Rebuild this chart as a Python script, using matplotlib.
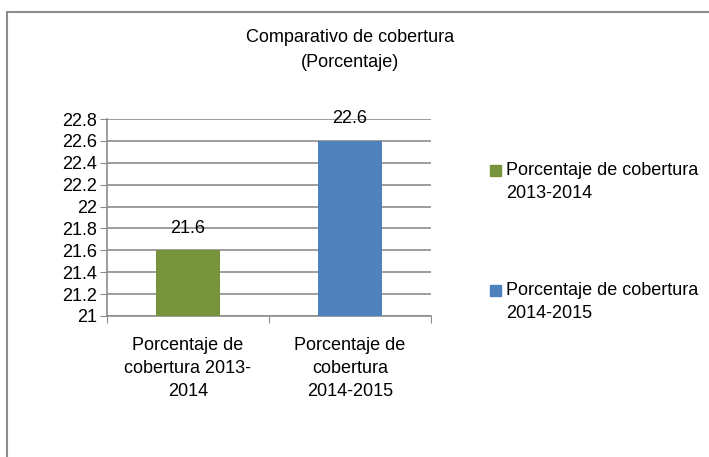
import matplotlib
matplotlib.use("Agg")
import matplotlib.pyplot as plt
from matplotlib.patches import Rectangle

# datos
categorias = ["Porcentaje de\ncobertura 2013-\n2014", "Porcentaje de\ncobertura\n2014-2015"]
series = ["Porcentaje de cobertura\n2013-2014", "Porcentaje de cobertura\n2014-2015"]
valores = [21.6, 22.6]
colores = ["#77933C", "#4F81BD"]
yticks = [21, 21.2, 21.4, 21.6, 21.8, 22, 22.2, 22.4, 22.6, 22.8]

plt.rcParams['font.family'] = ['Liberation Sans Narrow', 'Liberation Sans', 'DejaVu Sans']

fig = plt.figure(figsize=(7.09, 4.57), dpi=100)
W, H = 709, 457
# marco del grafico (solo se ven borde superior e izquierdo)
fig.patches.append(Rectangle((7 / W, -0.1), 1.2, 1 - 12 / H + 0.1, transform=fig.transFigure,
                             fill=False, edgecolor="#8c8c8c", linewidth=1.5))

ax = fig.add_axes([107 / W, 1 - 316 / H, (431 - 107) / W, (316 - 119) / H])
x = range(len(valores))
for i in x:
    ax.bar(i, valores[i] - 21, bottom=21, width=0.4, color=colores[i], zorder=3)
    ax.annotate(str(valores[i]), (i, valores[i]), xytext=(0, 16), textcoords="offset points",
                ha="center", va="center", fontsize=13, zorder=4)

ax.set_xlim(-0.5, 1.5)
ax.set_ylim(21, 22.8)
ax.set_yticks(yticks)
ax.set_yticklabels([("%g" % v) for v in yticks], fontsize=13)
ax.set_xticks([-0.5, 0.5, 1.5], minor=False)
ax.set_xticklabels([])
ax.set_xticks([0, 1], minor=True)
ax.set_xticklabels(categorias, minor=True, fontsize=13, linespacing=1.45)
ax.tick_params(axis="x", which="minor", length=0, pad=15)
ax.tick_params(axis="x", which="major", length=5, color="#8c8c8c", direction="out")
ax.tick_params(axis="y", length=5, color="#8c8c8c", pad=2)
ax.grid(axis="y", color="#8c8c8c", linewidth=1.2, zorder=0)
for s in ["top", "right"]:
    ax.spines[s].set_visible(False)
for s in ["left", "bottom"]:
    ax.spines[s].set_color("#8c8c8c")
    ax.spines[s].set_linewidth(1.2)

fig.text(350 / W, 1 - 50 / H, "Comparativo de cobertura\n(Porcentaje)", ha="center", va="center",
         fontsize=13, linespacing=1.6)

# leyenda a mano: cuadro alineado con la primera linea del texto
for k in range(len(series)):
    yc = 171 + 120 * k
    fig.patches.append(Rectangle((490 / W, 1 - (yc + 5) / H), 11 / W, 11 / H,
                                 transform=fig.transFigure, color=colores[k]))
    fig.text(506 / W, 1 - (yc - 9) / H, series[k], ha="left", va="top", fontsize=13, linespacing=1.45)

fig.savefig("out.png", dpi=100)
